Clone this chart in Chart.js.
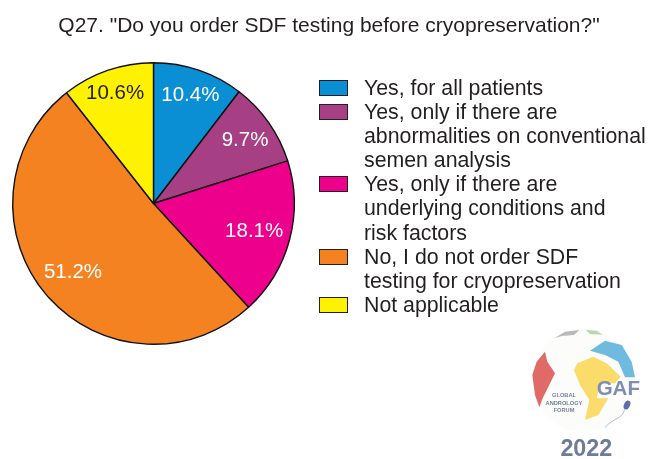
<!DOCTYPE html>
<html>
<head>
<meta charset="utf-8">
<script src="https://cdn.jsdelivr.net/npm/chart.js@4"></script>
<style>
  html, body { margin: 0; padding: 0; background: #fff; }
  body { width: 648px; height: 459px; position: relative; overflow: hidden; font-family: "Liberation Sans", Arial, sans-serif; color: #231f20; }
  #wrap { position: absolute; left: 0; top: 0; width: 648px; height: 459px; }
  #title { position: absolute; left: 0; top: 12px; width: 658px; text-align: center; font-size: 21px; line-height: 26px; white-space: nowrap; }
  #legend { position: absolute; left: 318px; top: 76px; font-size: 21.3px; line-height: 24.1px; }
  .row { position: relative; padding-left: 46px; white-space: nowrap; }
  .box { position: absolute; left: 1px; top: 4px; width: 27px; height: 14px; border: 1px solid #231f20; }
  #logo { position: absolute; left: 500px; top: 320px; }
</style>
</head>
<body>
<div id="wrap"><canvas id="myChart" width="648" height="459"></canvas></div>
<div id="title">Q27. "Do you order SDF testing before cryopreservation?"</div>
<div id="legend"></div>
<svg id="logo" width="148" height="139" viewBox="0 0 444 417">
  <circle cx="250" cy="180" r="155" fill="#fcfcfb"/>
  <path d="M135 95 L142 125 L165 160 L145 200 L128 235 L118 262 L105 225 L97 165 L110 125 Z" fill="#e06a66"/>
  <path d="M232 130 L280 110 L320 130 L362 170 L345 190 L300 190 L290 235 L325 235 L295 285 L255 300 L268 240 L240 195 L222 150 Z" fill="#fbdc6a"/>
  <path d="M270 92 L315 62 L365 75 L395 125 L405 172 L375 172 L355 125 L315 105 Z" fill="#6fbbe0"/>
  <path d="M163 55 L195 35 L238 30 L222 45 L185 48 Z" fill="#b9b9b9"/>
  <path d="M257 30 L290 32 L308 44 L270 42 Z" fill="#bcd7a8"/>
  <ellipse cx="381" cy="255" rx="9" ry="14" fill="#5a6fa8" transform="rotate(25 381 255)"/>
  <path d="M374 268 C365 300 345 290 315 322" fill="none" stroke="#8d9cc0" stroke-width="2"/>
  <text x="355" y="224" font-family="Liberation Sans" font-size="60" font-weight="bold" fill="#7f8db0" text-anchor="middle" textLength="130" lengthAdjust="spacingAndGlyphs">GAF</text>
  <g font-family="Liberation Sans" font-size="17" font-weight="bold" fill="#74809c" text-anchor="middle">
    <text x="192" y="232">GLOBAL</text>
    <text x="192" y="254">ANDROLOGY</text>
    <text x="192" y="277">FORUM</text>
  </g>
  <text x="259" y="407" font-family="Liberation Sans" font-size="70" font-weight="bold" fill="#6f7b9b" text-anchor="middle">2022</text>
</svg>
<script>
// data
const categories = [
  ["Yes, for all patients"],
  ["Yes, only if there are", "abnormalities on conventional", "semen analysis"],
  ["Yes, only if there are", "underlying conditions and", "risk factors"],
  ["No, I do not order SDF", "testing for cryopreservation"],
  ["Not applicable"]
];
const values = [10.4, 9.7, 18.1, 51.2, 10.6];
const colors = ["#0a8fd4", "#a63f84", "#ec008c", "#f58220", "#fff200"];
const labelColors = ["#fff", "#fff", "#fff", "#fff", "#231f20"];
const labelRadius = [0.815, 0.795, 0.74, 0.75, 0.835];

/*---------- legend ----------*/
const legendBox = document.getElementById("legend");
categories.forEach((lines, i) => {
  const row = document.createElement("div");
  row.className = "row";
  row.innerHTML = '<span class="box" style="background:' + colors[i] + '"></span>' + lines.join("<br>");
  legendBox.appendChild(row);
});

/*---------- percent labels on the slices ----------*/
const sliceLabels = {
  id: "sliceLabels",
  afterDatasetsDraw(chart) {
    const c = chart.ctx;
    c.save();
    c.font = '20.5px "Liberation Sans"';
    c.textAlign = "center";
    c.textBaseline = "middle";
    chart.getDatasetMeta(0).data.forEach((arc, i) => {
      const mid = (arc.startAngle + arc.endAngle) / 2;
      const r = arc.outerRadius * labelRadius[i];
      c.fillStyle = labelColors[i];
      c.fillText(values[i].toFixed(1) + "%", arc.x + Math.cos(mid) * r, arc.y + Math.sin(mid) * r + 1);
    });
    c.restore();
  }
};

const ctx = document.getElementById("myChart");
const myChart = new Chart(ctx, {
  type: "pie",
  data: {
    labels: categories.map(l => l.join(" ")),
    datasets: [{
      data: values,
      backgroundColor: colors,
      borderColor: "#111",
      borderWidth: 1.4
    }]
  },
  options: {
    responsive: false,
    animation: false,
    layout: { padding: { left: 12, right: 353, top: 62, bottom: 114 } },
    plugins: { legend: { display: false }, tooltip: { enabled: false } }
  },
  plugins: [sliceLabels]
});
</script>
</body>
</html>
